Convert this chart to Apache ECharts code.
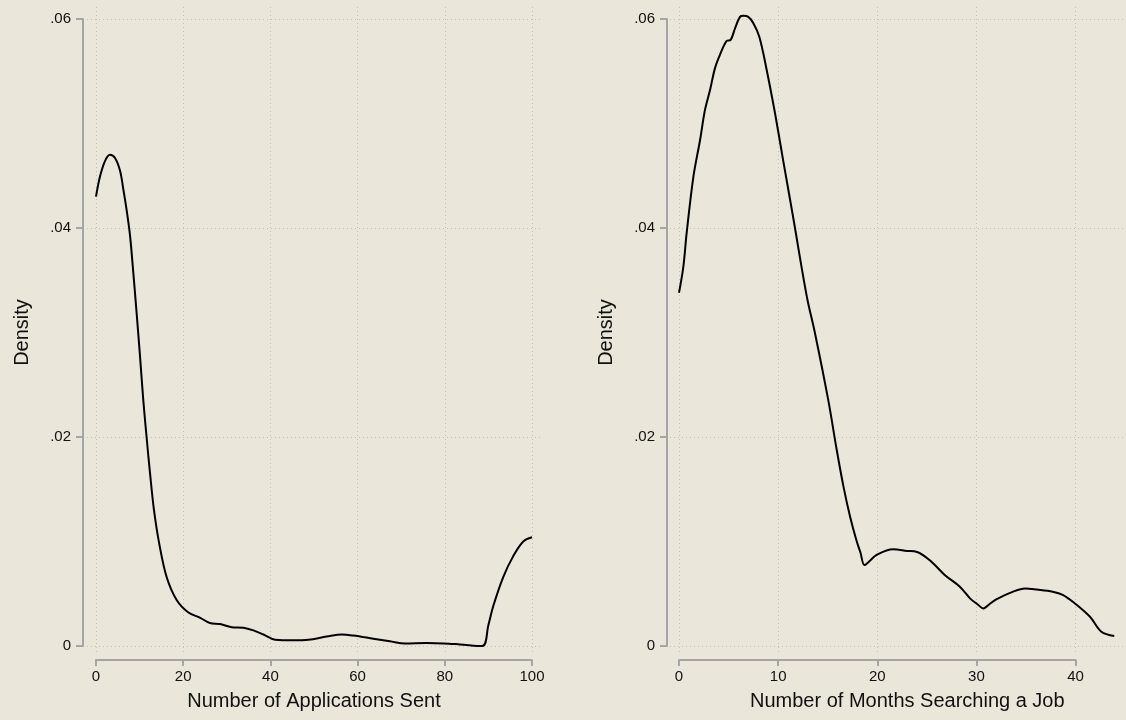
<!DOCTYPE html>
<html><head><meta charset="utf-8">
<script src="https://cdn.jsdelivr.net/npm/echarts@6/dist/echarts.min.js"></script>
<style>html,body{margin:0;padding:0;background:#EAE6DA}#c{width:1126px;height:720px}</style>
</head><body><div id="c"></div>
<script>
// ---- data ----
const appsX = [0, 0.9, 2.06, 3.2, 4.36, 5.5, 6.27, 7.03, 7.8, 8.56, 9.33, 10.1, 10.85, 11.6, 12.4, 13.3, 14.5, 16.2, 18.5, 21.2, 23.9, 26.1, 28.4, 31.1, 33.8, 36.1, 38.4, 41.1, 45.3, 48.7, 52.9, 56.4, 59.0, 63.6, 67.4, 70.9, 75.8, 79.7, 83.5, 88.6, 90.0, 91.1, 93.4, 95.7, 98.0, 100];
const appsY = [0.0430, 0.0449, 0.0464, 0.0470, 0.0467, 0.0455, 0.0437, 0.0417, 0.0393, 0.0357, 0.0318, 0.0277, 0.0235, 0.0200, 0.0165, 0.0130, 0.0098, 0.0066, 0.0044, 0.0032, 0.0027, 0.0022, 0.0021, 0.0018, 0.00175, 0.0015, 0.0011, 0.0006, 0.00055, 0.0006, 0.0009, 0.0011, 0.0010, 0.0007, 0.00045, 0.00023, 0.00028, 0.00025, 0.00015, 0.0000, 0.0020, 0.0038, 0.0066, 0.0086, 0.0100, 0.0104];
const monthsX = [0, 0.44, 0.77, 1.45, 2.12, 2.62, 3.13, 3.63, 4.14, 4.81, 5.21, 5.65, 6.15, 6.49, 6.99, 7.5, 8.1, 8.85, 9.68, 10.5, 11.5, 12.9, 13.7, 15.06, 15.9, 16.6, 17.25, 17.9, 18.3, 18.7, 19.2, 19.9, 21.6, 23.0, 24.0, 25.3, 26.8, 28.3, 29.35, 30.1, 30.7, 31.3, 32.0, 33.7, 34.9, 36.1, 37.7, 38.7, 39.9, 41.45, 42.6, 43.9];
const monthsY = [0.0338, 0.0363, 0.0395, 0.0449, 0.0484, 0.0513, 0.0532, 0.0553, 0.0566, 0.0579, 0.0580, 0.0591, 0.0602, 0.0603, 0.0602, 0.0596, 0.0583, 0.0551, 0.0510, 0.0465, 0.0411, 0.0334, 0.0300, 0.0235, 0.0188, 0.0152, 0.0124, 0.0101, 0.00895, 0.00775, 0.0081, 0.0087, 0.00925, 0.0091, 0.0090, 0.0082, 0.0068, 0.0057, 0.00456, 0.0040, 0.0036, 0.0040, 0.00446, 0.0052, 0.0055, 0.0054, 0.0052, 0.0049, 0.0041, 0.0028, 0.00137, 0.00096];
const appsTicks = [0, 20, 40, 60, 80, 100];
const monthsTicks = [0, 10, 20, 30, 40];
const densityTicks = [0, 0.02, 0.04, 0.06];
const appsTitle = 'Number of Applications Sent';
const monthsTitle = 'Number of Months Searching a Job';
const yTitle = 'Density';

// ---- layout ----
const FONT = '"Liberation Sans", Arial, Helvetica, sans-serif';
const Y_TOP = 19, Y_BOT = 646, Y_OTOP = 7, Y_OBOT = 653;
const panels = [
  { xs: appsX, ys: appsY, ticks: appsTicks, title: appsTitle, px0: 96, px1: 532, oL: 87, oR: 543, yOff: 13, titlePad: 0 },
  { xs: monthsX, ys: monthsY, ticks: monthsTicks, title: monthsTitle, px0: 679, px1: 1075.6, oL: 670, oR: 1125, yOff: 12, titlePad: 60 }
];
const AXIS_GRAY = '#A5A5A5';
const GRID_GRAY = '#C2C0BA';
const yMin = densityTicks[0], yMax = densityTicks[densityTicks.length - 1];
const sy = (Y_BOT - Y_TOP) / (yMax - yMin);
const oyMin = yMin - (Y_OBOT - Y_BOT) / sy;
const oyMax = yMax + (Y_TOP - Y_OTOP) / sy;

const grid = [], xAxis = [], yAxis = [], series = [];
panels.forEach((p, i) => {
  const v0 = p.ticks[0], v1 = p.ticks[p.ticks.length - 1];
  const sx = (p.px1 - p.px0) / (v1 - v0);
  const oxMin = v0 - (p.px0 - p.oL) / sx;
  const oxMax = v1 + (p.oR - p.px1) / sx;
  grid.push({ left: p.px0, top: Y_TOP, width: p.px1 - p.px0, height: Y_BOT - Y_TOP, containLabel: false });
  grid.push({ left: p.oL, top: Y_OTOP, width: p.oR - p.oL, height: Y_OBOT - Y_OTOP, containLabel: false });
  const gi = i * 2;
  xAxis.push({
    type: 'value', gridIndex: gi, min: v0, max: v1, interval: p.ticks[1] - p.ticks[0], offset: 14, position: 'bottom',
    axisLine: { show: true, onZero: false, lineStyle: { color: AXIS_GRAY, width: 2 } },
    axisTick: { show: true, length: 6, lineStyle: { color: AXIS_GRAY, width: 2 } },
    axisLabel: { color: '#111', fontSize: 15, fontFamily: FONT, margin: 9 },
    splitLine: { show: false },
    name: p.title, nameLocation: 'middle', nameGap: 31,
    nameTextStyle: { color: '#111', fontSize: 20, fontFamily: FONT, padding: [0, 0, 0, p.titlePad] }
  });
  yAxis.push({
    type: 'value', gridIndex: gi, min: yMin, max: yMax, interval: densityTicks[1] - densityTicks[0], offset: p.yOff, position: 'left',
    axisLine: { show: true, onZero: false, lineStyle: { color: AXIS_GRAY, width: 2 } },
    axisTick: { show: true, length: 7, lineStyle: { color: AXIS_GRAY, width: 2 } },
    axisLabel: { color: '#111', fontSize: 15, fontFamily: FONT, margin: 12,
      formatter: v => v === 0 ? '0' : String(+v.toFixed(4)).replace(/^0/, '') },
    splitLine: { show: false },
    name: yTitle, nameLocation: 'middle', nameGap: 51,
    nameTextStyle: { color: '#111', fontSize: 20, fontFamily: FONT }
  });
  xAxis.push({
    type: 'value', gridIndex: gi + 1, min: oxMin, max: oxMax,
    axisLine: { show: false, onZero: false }, axisLabel: { show: false },
    axisTick: { show: false, customValues: p.ticks },
    splitLine: { show: true, lineStyle: { color: GRID_GRAY, width: 1, type: [1, 3] } }
  });
  yAxis.push({
    type: 'value', gridIndex: gi + 1, min: oyMin, max: oyMax,
    axisLine: { show: false, onZero: false }, axisLabel: { show: false },
    axisTick: { show: false, customValues: densityTicks },
    splitLine: { show: true, lineStyle: { color: GRID_GRAY, width: 1, type: [1, 3] } }
  });
  series.push({
    type: 'line', xAxisIndex: gi + 1, yAxisIndex: gi + 1,
    data: p.xs.map((x, k) => [x, p.ys[k]]),
    showSymbol: false, smooth: 0.35,
    lineStyle: { color: '#000', width: 2, join: 'round' }, z: 5, silent: true
  });
});

const chart = echarts.init(document.getElementById('c'), null, { renderer: 'canvas' });
chart.setOption({ backgroundColor: '#EAE6DA', animation: false, grid, xAxis, yAxis, series });
</script></body></html>
